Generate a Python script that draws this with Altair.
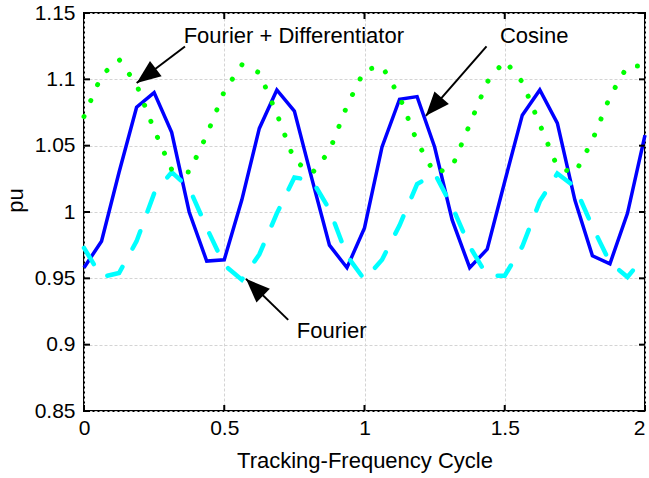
import math
import altair as alt
import pandas as pd

# ---------------- data ----------------
x_cycle = [0.0, 0.0625, 0.125, 0.1875, 0.25, 0.3125, 0.375, 0.4375,
           0.5, 0.5625, 0.625, 0.6875, 0.75, 0.8125, 0.875, 0.9375,
           1.0, 1.0625, 1.125, 1.1875, 1.25, 1.3125, 1.375, 1.4375,
           1.5, 1.5625, 1.625, 1.6875, 1.75, 1.8125, 1.875, 1.9375, 2.0]

cosine = [0.958, 0.978, 1.030, 1.079, 1.090, 1.060, 1.000, 0.963,
          0.964, 1.009, 1.063, 1.092, 1.076, 1.025, 0.975, 0.958,
          0.988, 1.049, 1.085, 1.087, 1.049, 0.994, 0.958, 0.972,
          1.023, 1.073, 1.092, 1.067, 1.009, 0.967, 0.961, 0.999, 1.058]

fourier = [0.973, 0.951, 0.954, 0.978, 1.014, 1.030, 1.018, 0.988,
           0.960, 0.949, 0.968, 0.999, 1.026, 1.024, 1.002, 0.967,
           0.949, 0.964, 0.990, 1.021, 1.029, 1.004, 0.974, 0.952,
           0.952, 0.974, 1.008, 1.029, 1.019, 0.989, 0.962, 0.951, 0.967]

fourier_diff = [1.072, 1.103, 1.115, 1.096, 1.062, 1.032, 1.030, 1.058,
                1.091, 1.111, 1.105, 1.074, 1.039, 1.029, 1.046, 1.080,
                1.107, 1.110, 1.087, 1.053, 1.029, 1.034, 1.066, 1.098,
                1.114, 1.098, 1.066, 1.034, 1.029, 1.054, 1.087, 1.110, 1.110]

x_ticks = [0, 0.5, 1, 1.5, 2]
y_ticks = [0.85, 0.9, 0.95, 1.0, 1.05, 1.1, 1.15]

ann_text = ["Fourier + Differentiator", "Cosine", "Fourier"]
ann_text_x = [0.748, 1.605, 0.883]
ann_text_y = [1.1276, 1.1274, 0.9051]
arrow_tail_x = [0.360, 1.435, 0.728]
arrow_tail_y = [1.1248, 1.1248, 0.9187]
arrow_tip_x = [0.1878, 1.2188, 0.5773]
arrow_tip_y = [1.0972, 1.0725, 0.9496]

# ---------------- layout ----------------
W, H = 561, 398
X_DOM = [0, 2]
Y_DOM = [0.85, 1.15]
FONT = "Liberation Sans"

xscale = alt.Scale(domain=X_DOM, nice=False, zero=False)
yscale = alt.Scale(domain=Y_DOM, nice=False, zero=False)

xaxis = alt.Axis(values=x_ticks, format="~g", title="Tracking-Frequency Cycle",
                 grid=True, ticks=False, domain=False, labelPadding=6,
                 labelFlush=False, titlePadding=12,
                 labelAlign=alt.ExprRef(expr="datum.value >= 2 ? 'right' : 'center'"))
yaxis = alt.Axis(values=y_ticks, format="~g", title="pu",
                 grid=True, ticks=False, domain=False, labelPadding=9,
                 labelFlush=False,
                 titleX=-62, titleY=187, titleAngle=-90,
                 titleAlign="center", titleBaseline="alphabetic")


def xenc(field):
    return alt.X(f"{field}:Q", scale=xscale, axis=xaxis)


def yenc(field):
    return alt.Y(f"{field}:Q", scale=yscale, axis=yaxis)


df_cos = pd.DataFrame({"x": x_cycle, "y": cosine})
df_fou = pd.DataFrame({"x": x_cycle, "y": fourier})
df_fd = pd.DataFrame({"x": x_cycle, "y": fourier_diff})

blue = alt.Chart(df_cos).mark_line(color="#0000ff", strokeWidth=3.5).encode(
    x=xenc("x"), y=yenc("y"))
cyan = alt.Chart(df_fou).mark_line(color="#00ffff", strokeWidth=4.5,
                                   strokeDash=[19, 21], strokeCap="round").encode(
    x=xenc("x"), y=yenc("y"))
green = alt.Chart(df_fd).mark_line(color="#00ff00", strokeWidth=5,
                                   strokeDash=[0.01, 17.3], strokeCap="round").encode(
    x=xenc("x"), y=yenc("y"))

# inward ticks on all four sides
df_xt = pd.DataFrame({"v": x_ticks})
df_yt = pd.DataFrame({"v": y_ticks})
TK = 6
tick_bottom = alt.Chart(df_xt).mark_rule(color="black", strokeWidth=2).encode(
    x=xenc("v"), y=alt.value(H), y2=alt.value(H - TK))
tick_top = alt.Chart(df_xt).mark_rule(color="black", strokeWidth=2).encode(
    x=xenc("v"), y=alt.value(0), y2=alt.value(TK))
tick_left = alt.Chart(df_yt).mark_rule(color="black", strokeWidth=2).encode(
    y=yenc("v"), x=alt.value(0), x2=alt.value(TK))
tick_right = alt.Chart(df_yt).mark_rule(color="black", strokeWidth=2).encode(
    y=yenc("v"), x=alt.value(W), x2=alt.value(W - TK))

# annotations
px_per_x = W / (X_DOM[1] - X_DOM[0])
px_per_y = H / (Y_DOM[1] - Y_DOM[0])
angles = []
for tx, ty, hx, hy in zip(arrow_tail_x, arrow_tail_y, arrow_tip_x, arrow_tip_y):
    dx = (hx - tx) * px_per_x
    dy = -(hy - ty) * px_per_y
    angles.append(math.degrees(math.atan2(dx, -dy)) % 360)

df_ann = pd.DataFrame({
    "label": ann_text, "tx": ann_text_x, "ty": ann_text_y,
    "ax": arrow_tail_x, "ay": arrow_tail_y,
    "hx": arrow_tip_x, "hy": arrow_tip_y, "angle": angles,
})

texts = alt.Chart(df_ann).mark_text(font=FONT, fontSize=22, color="black",
                                    align="center", baseline="alphabetic").encode(
    x=xenc("tx"), y=yenc("ty"), text="label:N")
shafts = alt.Chart(df_ann).mark_rule(color="black", strokeWidth=2).encode(
    x=xenc("ax"), y=yenc("ay"), x2="hx:Q", y2="hy:Q")
heads = alt.Chart(df_ann).mark_point(
    shape="M0,0 L0.8,2 L-0.8,2 Z", size=576, filled=True, color="black",
    opacity=1, strokeWidth=0).encode(
    x=xenc("hx"), y=yenc("hy"), angle=alt.Angle("angle:Q", scale=None))

chart = alt.layer(
    blue, cyan, green,
    tick_bottom, tick_top, tick_left, tick_right,
    shafts, heads, texts,
).properties(
    width=W, height=H,
    autosize=alt.AutoSizeParams(type="none"),
    padding={"left": 84, "top": 13, "right": 4, "bottom": 67},
).configure_view(
    stroke="black", strokeWidth=2
).configure_axis(
    labelFont=FONT, labelFontSize=21, labelColor="black",
    titleFont=FONT, titleFontSize=22, titleColor="black", titleFontWeight="normal",
    gridColor="#d4d4d4", gridDash=[3, 2], gridWidth=1,
)

chart.save("out.html", embed_options={"renderer": "svg", "actions": False})
